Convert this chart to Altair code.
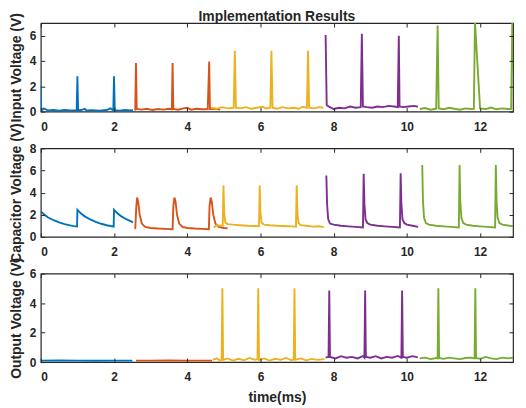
import altair as alt
import pandas as pd

FONT = "Liberation Sans"
INK = "#262626"
SEGS = ["s1", "s2", "s3", "s4", "s5"]
COLORS = ["#0072BD", "#D95319", "#EDB120", "#7E2F8E", "#77AC30"]
XTICKS = [0, 2, 4, 6, 8, 10, 12]
XMAX = 12.9

# ---------------- Input Voltage (V) ----------------
in_blue_t = [0.0, 0.01, 0.03, 0.08, 0.2, 0.35, 0.5, 0.65, 0.8, 0.98, 1.0, 1.02, 1.1, 1.2, 1.25, 1.4, 1.6, 1.8, 1.9, 1.98, 2.0, 2.02, 2.15, 2.3, 2.45, 2.52]
in_blue_v = [2.1, 0.3, 0.1, 0.25, 0.08, 0.12, 0.06, 0.12, 0.08, 0.1, 2.8, 0.1, 0.12, 0.22, 0.08, 0.1, 0.06, 0.12, 0.25, 0.1, 2.8, 0.1, 0.06, 0.12, 0.08, 0.1]
in_orange_t = [2.56, 2.58, 2.6, 2.62, 2.75, 2.9, 3.05, 3.2, 3.35, 3.5, 3.58, 3.6, 3.62, 3.75, 3.9, 4.0, 4.1, 4.25, 4.4, 4.56, 4.6, 4.62, 4.75, 4.9]
in_orange_v = [0.1, 0.15, 3.85, 0.2, 0.15, 0.22, 0.12, 0.2, 0.15, 0.22, 0.18, 3.85, 0.2, 0.15, 0.25, 0.3, 0.15, 0.22, 0.18, 0.2, 3.95, 0.2, 0.22, 0.15]
in_yellow_t = [4.65, 4.8, 4.95, 5.1, 5.27, 5.3, 5.33, 5.45, 5.6, 5.75, 5.9, 6.05, 6.15, 6.27, 6.3, 6.33, 6.45, 6.6, 6.75, 6.9, 7.05, 7.15, 7.27, 7.3, 7.33, 7.45, 7.6, 7.72]
in_yellow_v = [0.3, 0.22, 0.35, 0.25, 0.3, 4.8, 0.3, 0.25, 0.35, 0.22, 0.3, 0.38, 0.25, 0.3, 4.8, 0.3, 0.22, 0.35, 0.25, 0.3, 0.22, 0.38, 0.3, 4.8, 0.3, 0.25, 0.35, 0.3]
in_purple_t = [7.78, 7.81, 7.9, 8.0, 8.15, 8.3, 8.45, 8.6, 8.74, 8.77, 8.8, 8.9, 9.05, 9.2, 9.35, 9.5, 9.65, 9.75, 9.78, 9.8, 9.9, 10.05, 10.2, 10.3]
in_purple_v = [6.05, 0.5, 0.35, 0.2, 0.3, 0.25, 0.4, 0.3, 0.35, 6.15, 0.4, 0.35, 0.3, 0.4, 0.35, 0.45, 0.4, 0.35, 6.0, 0.4, 0.35, 0.4, 0.45, 0.38]
in_green_t = [10.35, 10.5, 10.65, 10.8, 10.84, 10.87, 11.0, 11.15, 11.3, 11.45, 11.6, 11.75, 11.83, 11.86, 12.0, 12.15, 12.3, 12.45, 12.6, 12.75, 12.85, 12.88, 12.95, 13.0]
in_green_v = [0.2, 0.28, 0.15, 0.22, 6.8, 0.25, 0.18, 0.3, 0.22, 0.15, 0.25, 0.2, 0.22, 7.1, 0.25, 0.2, 0.32, 0.18, 0.25, 0.2, 0.22, 7.1, 0.25, 0.2]

# ---------------- Capacitor Voltage (V) ----------------
cap_blue_t = [0.0, 0.1, 0.2, 0.35, 0.5, 0.65, 0.8, 0.9, 0.99, 1.0, 1.1, 1.2, 1.35, 1.5, 1.65, 1.8, 1.9, 1.99, 2.0, 2.1, 2.2, 2.35, 2.52]
cap_blue_v = [2.3, 2.0, 1.75, 1.5, 1.3, 1.15, 1.03, 0.97, 0.93, 2.45, 2.1, 1.85, 1.57, 1.35, 1.18, 1.05, 0.98, 0.93, 2.45, 2.1, 1.85, 1.57, 1.3]
cap_orange_t = [2.58, 2.61, 2.63, 2.66, 2.7, 2.76, 2.85, 3.0, 3.2, 3.4, 3.6, 3.62, 3.65, 3.68, 3.72, 3.78, 3.87, 4.0, 4.2, 4.4, 4.59, 4.61, 4.64, 4.67, 4.71, 4.77, 4.86, 5.0, 5.1]
cap_orange_v = [0.7, 2.8, 3.55, 3.2, 2.0, 1.2, 0.9, 0.8, 0.75, 0.72, 0.68, 2.8, 3.55, 3.2, 2.0, 1.2, 0.9, 0.8, 0.75, 0.72, 0.68, 2.8, 3.55, 3.2, 2.0, 1.2, 0.9, 0.8, 0.78]
cap_yellow_t = [4.72, 4.8, 4.9, 4.97, 4.99, 5.01, 5.04, 5.1, 5.25, 5.45, 5.65, 5.85, 5.96, 5.98, 6.0, 6.03, 6.1, 6.25, 6.45, 6.65, 6.85, 6.97, 6.99, 7.01, 7.04, 7.1, 7.25, 7.45, 7.6, 7.73]
cap_yellow_v = [0.85, 1.05, 1.0, 1.0, 4.65, 2.2, 1.3, 1.15, 1.1, 1.05, 1.0, 0.98, 0.95, 4.65, 2.2, 1.3, 1.1, 1.05, 1.0, 0.98, 0.95, 0.92, 4.65, 2.2, 1.25, 1.05, 1.0, 0.92, 0.95, 0.88]
cap_purple_t = [7.8, 7.82, 7.85, 7.9, 8.0, 8.2, 8.4, 8.6, 8.8, 8.82, 8.84, 8.87, 8.92, 9.0, 9.2, 9.4, 9.6, 9.81, 9.83, 9.85, 9.88, 9.93, 10.0, 10.15, 10.31]
cap_purple_v = [5.55, 3.0, 1.6, 1.2, 1.1, 1.0, 0.95, 0.9, 0.85, 5.7, 3.0, 1.6, 1.25, 1.1, 1.0, 0.95, 0.9, 0.85, 5.75, 3.0, 1.6, 1.25, 1.1, 1.0, 0.9]
cap_green_t = [10.42, 10.44, 10.47, 10.52, 10.6, 10.8, 11.0, 11.2, 11.42, 11.44, 11.46, 11.49, 11.54, 11.62, 11.8, 12.0, 12.2, 12.41, 12.43, 12.45, 12.48, 12.53, 12.61, 12.8, 13.0]
cap_green_v = [6.5, 3.2, 1.7, 1.25, 1.1, 1.0, 0.95, 0.9, 0.85, 6.5, 3.2, 1.7, 1.25, 1.1, 1.0, 0.95, 0.9, 0.85, 6.5, 3.2, 1.7, 1.25, 1.1, 1.0, 0.95]

# ---------------- Output Voltage (V) ----------------
out_blue_t = [0.0, 0.5, 1.0, 1.5, 2.0, 2.5]
out_blue_v = [0.1, 0.11, 0.1, 0.09, 0.1, 0.1]
out_orange_t = [2.6, 3.0, 3.5, 4.0, 4.5, 4.68]
out_orange_v = [0.1, 0.1, 0.11, 0.1, 0.1, 0.1]
out_yellow_t = [4.7, 4.8, 4.9, 4.94, 4.96, 4.98, 5.1, 5.25, 5.4, 5.55, 5.7, 5.85, 5.92, 5.94, 5.96, 6.1, 6.25, 6.4, 6.55, 6.7, 6.85, 6.91, 6.93, 6.95, 7.1, 7.25, 7.4, 7.55, 7.75]
out_yellow_v = [0.15, 0.25, 0.1, 0.18, 5.0, 0.15, 0.25, 0.1, 0.22, 0.12, 0.28, 0.15, 0.2, 5.0, 0.15, 0.25, 0.1, 0.22, 0.15, 0.28, 0.12, 0.18, 5.0, 0.15, 0.25, 0.12, 0.22, 0.15, 0.2]
out_purple_t = [7.78, 7.85, 7.86, 7.88, 7.9, 8.05, 8.2, 8.35, 8.5, 8.65, 8.8, 8.84, 8.86, 8.88, 9.0, 9.15, 9.3, 9.45, 9.6, 9.75, 9.85, 9.87, 9.89, 10.0, 10.15, 10.3]
out_purple_v = [0.3, 0.35, 0.3, 4.85, 0.35, 0.25, 0.4, 0.3, 0.35, 0.25, 0.4, 0.3, 4.85, 0.35, 0.3, 0.4, 0.25, 0.35, 0.3, 0.42, 0.3, 4.85, 0.35, 0.3, 0.4, 0.32]
out_green_t = [10.35, 10.5, 10.65, 10.8, 10.84, 10.86, 10.88, 11.0, 11.15, 11.3, 11.45, 11.6, 11.75, 11.85, 11.87, 11.89, 12.0, 12.15, 12.3, 12.45, 12.6, 12.75, 12.9, 13.0]
out_green_v = [0.25, 0.3, 0.2, 0.28, 0.25, 5.0, 0.28, 0.22, 0.3, 0.25, 0.2, 0.28, 0.3, 0.25, 5.0, 0.28, 0.22, 0.35, 0.25, 0.2, 0.3, 0.25, 0.3, 0.22]


def frame(series):
    rows = []
    for seg, (ts, vs) in zip(SEGS, series):
        for t, v in zip(ts, vs):
            rows.append({"t": t, "v": v, "seg": seg})
    return pd.DataFrame(rows)


def panel(df, ymax, yticks, ytitle, xtitle, title=None):
    xs = alt.Scale(domain=[0, XMAX], nice=False, zero=False)
    ys = alt.Scale(domain=[0, ymax], nice=False, zero=False)
    ghost = alt.Chart(df).mark_line(opacity=0).encode(
        x=alt.X("t:Q", scale=xs, axis=alt.Axis(orient="top", values=XTICKS, offset=-4, tickSize=4,
                                                domain=False, labels=False, grid=False, title=None, zindex=1)),
        y=alt.Y("v:Q", scale=ys, axis=alt.Axis(orient="right", values=yticks, offset=-4, tickSize=4,
                                                domain=False, labels=False, grid=False, title=None, zindex=1)),
        detail="seg:N",
    )
    lines = alt.Chart(df).mark_line(strokeWidth=1.9, clip=True).encode(
        x=alt.X("t:Q", scale=xs, axis=alt.Axis(orient="bottom", values=XTICKS, offset=-4, tickSize=4,
                                                domain=False, grid=False, labelPadding=10, title=xtitle,
                                                titlePadding=8, zindex=1)),
        y=alt.Y("v:Q", scale=ys, axis=alt.Axis(orient="left", values=yticks, offset=-4, tickSize=4,
                                                domain=False, grid=False, labelPadding=5, title=ytitle,
                                                titlePadding=6, zindex=1)),
        color=alt.Color("seg:N", scale=alt.Scale(domain=SEGS, range=COLORS), legend=None),
        order=alt.Order("t:Q"),
    )
    ch = alt.layer(ghost, lines).resolve_axis(x="independent", y="independent").properties(width=475, height=89)
    if title is not None:
        ch = ch.properties(title=alt.TitleParams(title, fontSize=14, font=FONT, fontWeight="bold", color=INK,
                                                  anchor="middle", frame="group", offset=-11))
    return ch


df_in = frame([(in_blue_t, in_blue_v), (in_orange_t, in_orange_v), (in_yellow_t, in_yellow_v),
               (in_purple_t, in_purple_v), (in_green_t, in_green_v)])
df_cap = frame([(cap_blue_t, cap_blue_v), (cap_orange_t, cap_orange_v), (cap_yellow_t, cap_yellow_v),
                (cap_purple_t, cap_purple_v), (cap_green_t, cap_green_v)])
df_out = frame([(out_blue_t, out_blue_v), (out_orange_t, out_orange_v), (out_yellow_t, out_yellow_v),
                (out_purple_t, out_purple_v), (out_green_t, out_green_v)])

p1 = panel(df_in, 7, [0, 2, 4, 6], "Input Voltage (V)", None, title="Implementation Results")
p2 = panel(df_cap, 8, [0, 2, 4, 6, 8], "Capacitor Voltage (V)", None)
p3 = panel(df_out, 6, [0, 2, 4, 6], "Output Voltage (V)", "time(ms)")

chart = alt.vconcat(p1, p2, p3, spacing=37, bounds="flush").properties(
    padding={"left": 0, "top": -1, "right": 0, "bottom": 0},
    background="white",
).configure_view(
    stroke=INK, strokeWidth=1.2
).configure_axis(
    labelFont=FONT, labelFontSize=12, labelFontWeight="bold", labelColor=INK,
    titleFont=FONT, titleFontSize=14, titleFontWeight="bold", titleColor=INK,
    tickColor=INK, tickWidth=1,
)

chart.save("out.html", embed_options={"renderer": "svg", "actions": False})
